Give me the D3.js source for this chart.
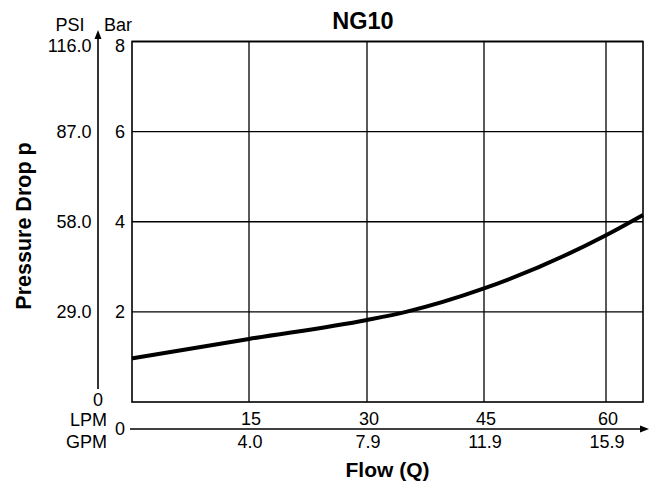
<!DOCTYPE html>
<html><head><meta charset="utf-8">
<script src="https://cdn.jsdelivr.net/npm/d3@7"></script>
<style>body{margin:0;background:#fff}svg{display:block}text{font-family:"Liberation Sans",Arial,sans-serif;fill:#000}</style>
</head><body>
<script>
const title = "NG10";
const flowLPM = [0, 15, 30, 35, 45, 60, 65];
const pressureBar = [0.97, 1.40, 1.82, 2.0, 2.52, 3.70, 4.15];
const barTicks = [2, 4, 6, 8];
const psiTicks = ["29.0", "58.0", "87.0", "116.0"];
const lpmTicks = [15, 30, 45, 60];
const gpmTicks = ["4.0", "7.9", "11.9", "15.9"];

const W = 649, H = 483;
const svg = d3.select("body").append("svg").attr("width", W).attr("height", H);

const x = d3.scaleLinear().domain([0, 15, 30, 45, 60, 65]).range([132, 249, 367, 484, 606, 643]);
const y = d3.scaleLinear().domain([0, 8]).range([402, 41.5]);

// grid
const g = svg.append("g");
g.selectAll(".vg").data(lpmTicks).join("line")
  .attr("x1", d => x(d)).attr("x2", d => x(d)).attr("y1", y(8)).attr("y2", y(0))
  .attr("stroke", "#000").attr("stroke-width", 1.3);
g.selectAll(".hg").data(barTicks).join("line")
  .attr("x1", x(0)).attr("x2", x(65)).attr("y1", d => y(d)).attr("y2", d => y(d))
  .attr("stroke", "#000").attr("stroke-width", 1.3);
g.append("rect").attr("x", x(0)).attr("y", y(8)).attr("width", x(65) - x(0)).attr("height", y(0) - y(8))
  .attr("fill", "none").attr("stroke", "#000").attr("stroke-width", 1.6);

// curve
const line = d3.line().x((d, i) => x(flowLPM[i])).y(d => y(d)).curve(d3.curveMonotoneX);
svg.append("path").datum(pressureBar).attr("d", line)
  .attr("fill", "none").attr("stroke", "#000").attr("stroke-width", 4);

// Bar labels
const fs = 18;
svg.selectAll(".bl").data(barTicks).join("text")
  .attr("x", 125).attr("y", d => y(d) + (d === 8 ? 4 : 0)).attr("dy", "0.35em")
  .attr("text-anchor", "end").attr("font-size", fs).text(d => d);
svg.selectAll(".pl").data(psiTicks).join("text")
  .attr("x", 91.5).attr("y", (d, i) => y(barTicks[i]) + (barTicks[i] === 8 ? 4 : 0)).attr("dy", "0.35em")
  .attr("text-anchor", "end").attr("font-size", fs).text(d => d);
svg.append("text").attr("x", 98).attr("y", 400).attr("dy", "0.35em").attr("text-anchor", "middle").attr("font-size", fs).text("0");
svg.append("text").attr("x", 70).attr("y", 30.5).attr("text-anchor", "middle").attr("font-size", fs).text("PSI");
svg.append("text").attr("x", 118).attr("y", 30.5).attr("text-anchor", "middle").attr("font-size", fs).text("Bar");

// PSI axis arrow
svg.append("line").attr("x1", 98).attr("x2", 98).attr("y1", 36).attr("y2", 389).attr("stroke", "#000").attr("stroke-width", 1.6);
svg.append("path").attr("d", "M98,30 L94.5,39 L101.5,39 Z").attr("fill", "#000");

// Flow axis
const ay = 429;
svg.append("line").attr("x1", 130).attr("x2", 642).attr("y1", ay).attr("y2", ay).attr("stroke", "#000").attr("stroke-width", 1.6);
svg.append("path").attr("d", `M649,${ay} L640,${ay - 3.5} L640,${ay + 3.5} Z`).attr("fill", "#000");
svg.append("text").attr("x", 120).attr("y", ay).attr("dy", "0.35em").attr("text-anchor", "middle").attr("font-size", fs).text("0");
svg.append("text").attr("x", 107).attr("y", 420).attr("dy", "0.35em").attr("text-anchor", "end").attr("font-size", fs).text("LPM");
svg.append("text").attr("x", 107).attr("y", 441.5).attr("dy", "0.35em").attr("text-anchor", "end").attr("font-size", fs).text("GPM");
svg.selectAll(".lt").data(lpmTicks).join("text")
  .attr("x", d => x(d) + 2).attr("y", 419).attr("dy", "0.35em").attr("text-anchor", "middle").attr("font-size", fs).text(d => d);
svg.selectAll(".gt").data(gpmTicks).join("text")
  .attr("x", (d, i) => x(lpmTicks[i]) + 1).attr("y", 441.5).attr("dy", "0.35em").attr("text-anchor", "middle").attr("font-size", fs).text(d => d);

// titles
svg.append("text").attr("x", 363).attr("y", 28.5).attr("text-anchor", "middle").attr("font-size", 23.5).attr("font-weight", "bold").text(title);
svg.append("text").attr("x", 387.5).attr("y", 477).attr("text-anchor", "middle").attr("font-size", 21).attr("font-weight", "bold").text("Flow (Q)");
svg.append("text").attr("transform", "translate(31,226) rotate(-90)").attr("text-anchor", "middle").attr("font-size", 21.5).attr("font-weight", "bold").text("Pressure Drop p");
</script>
</body></html>
